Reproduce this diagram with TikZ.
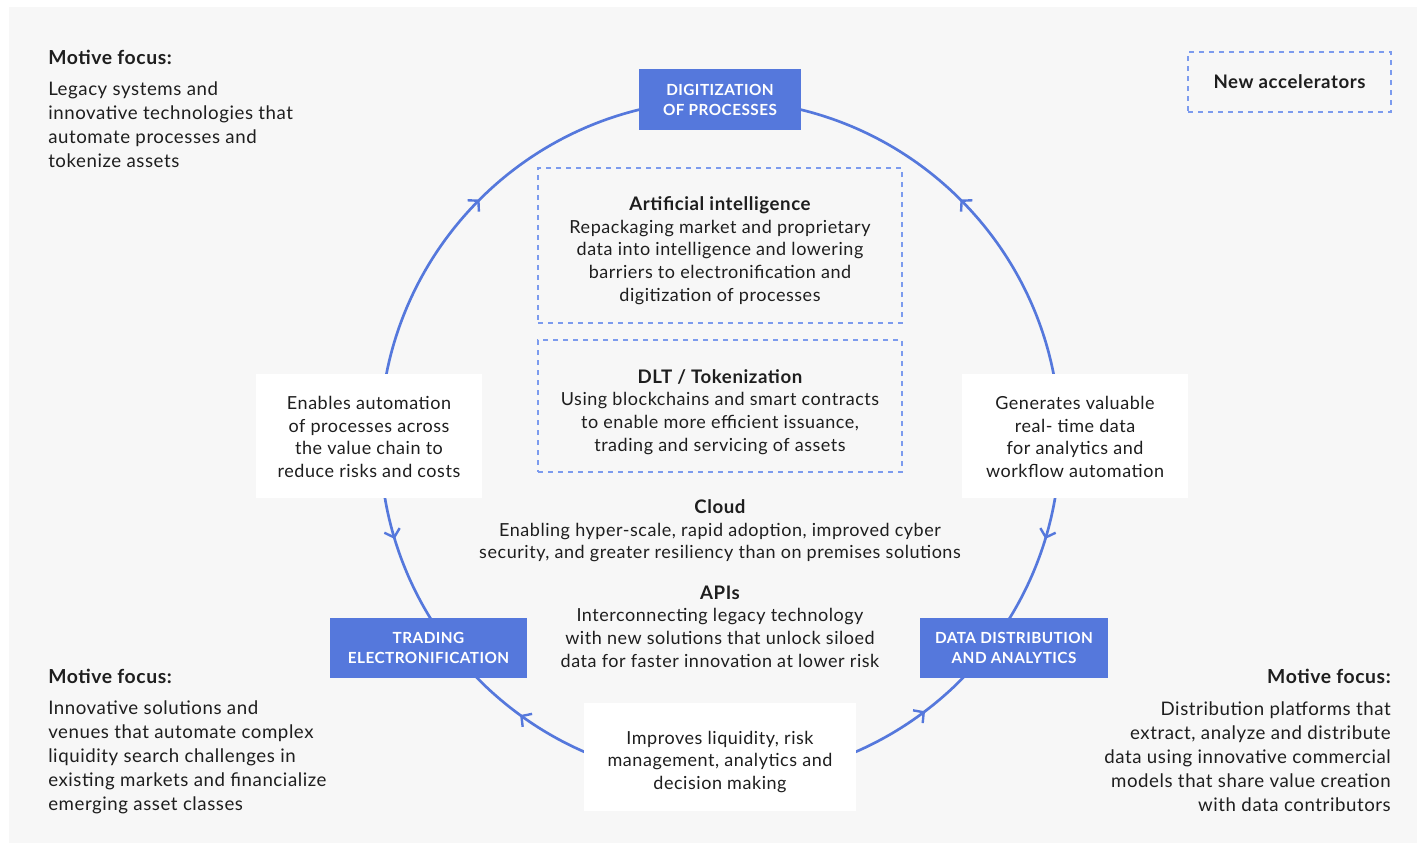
\documentclass[tikz,border=0pt]{standalone}
\usepackage{fontspec}
\setmainfont{Lato}[LetterSpace=3]
\usetikzlibrary{arrows.meta,decorations.markings}
\definecolor{panel}{HTML}{F7F7F7}
\definecolor{ringblue}{HTML}{5578DC}
\definecolor{dashblue}{HTML}{7C9BEE}
\definecolor{ink}{HTML}{1E1E1E}
\newcommand{\boxhead}[1]{{\bfseries\fontsize{14}{17}\selectfont #1}}
\begin{document}
\begin{tikzpicture}[x=0.75pt,y=-0.75pt,
  every node/.style={text=ink},
  stage/.style={fill=ringblue,text=white,align=center,inner sep=0pt,
    font=\bfseries\fontsize{11.5}{15}\selectfont},
  note/.style={fill=white,inner sep=0pt},
  tech/.style={draw=dashblue,dash pattern=on 4pt off 3.5pt,line width=1.1pt,inner sep=0pt},
  boxtext/.style={inner sep=0pt,align=center,font=\fontsize{13.5}{17}\selectfont},
  focus/.style={inner sep=0pt,font=\bfseries\fontsize{14.5}{18}\selectfont},
  focustext/.style={inner sep=0pt,font=\fontsize{14}{18}\selectfont},
  barb/.tip={Straight Barb[length=5.5pt,width=12pt]},
  ring/.style={draw=ringblue,line width=2pt}
]
\useasboundingbox (0,0) rectangle (1417,843);
\fill[white] (0,0) rectangle (1417,843);
\fill[panel] (9,7) rectangle (1417,843);

% the cycle, with arrows pointing toward each stage
\coordinate (c) at (720,440);
\draw[ring,postaction={decorate},decoration={markings,
  mark=at position 0.125 with {\arrow[ringblue,line width=1.8pt]{barb}},
  mark=at position 0.375 with {\arrowreversed[ringblue,line width=1.8pt]{barb}},
  mark=at position 0.547 with {\arrow[ringblue,line width=1.8pt]{barb}},
  mark=at position 0.650 with {\arrowreversed[ringblue,line width=1.8pt]{barb}},
  mark=at position 0.853 with {\arrow[ringblue,line width=1.8pt]{barb}},
  mark=at position 0.953 with {\arrowreversed[ringblue,line width=1.8pt]{barb}}}]
  (c) circle[radius=255pt];

% stages
\node[stage,minimum width=121.5pt,minimum height=45.75pt] (dig) at (720,99.5)
  {DIGITIZATION\\OF PROCESSES};
\node[stage,minimum width=147.75pt,minimum height=45pt] (trade) at (428.5,648)
  {TRADING\\ELECTRONIFICATION};
\node[stage,minimum width=141pt,minimum height=45pt] (data) at (1014,648)
  {DATA DISTRIBUTION\\AND ANALYTICS};

% benefits on the ring
\node[note,minimum width=169.5pt,minimum height=93pt] (enable) at (369,436) {};
\node[boxtext] (enabletext) at (369,437)
  {Enables automation\\of processes across\\the value chain to\\reduce risks and costs};
\node[note,minimum width=169.5pt,minimum height=93pt] (generate) at (1075,436) {};
\node[boxtext] (generatetext) at (1075,437)
  {Generates valuable\\real- time data\\for analytics and\\workflow automation};
\node[note,minimum width=204pt,minimum height=81pt] (improve) at (720,757) {};
\node[boxtext] (improvetext) at (720,762)
  {Improves liquidity, risk\\management, analytics and\\decision making};

% accelerators
\node[tech,minimum width=152.25pt,minimum height=45pt] (legend) at (1289.5,82) {};
\node[boxtext] (legendtext) at (1289.5,82) {\boxhead{New accelerators}};
\node[tech,minimum width=273pt,minimum height=116.25pt] (ai) at (720,245.5) {};
\node[boxtext] (aitext) at (720,250.5)
  {\boxhead{Artificial intelligence}\\Repackaging market and proprietary\\data into intelligence and lowering\\barriers to electronification and\\digitization of processes};
\node[tech,minimum width=273pt,minimum height=99pt] (dlt) at (720,406) {};
\node[boxtext] (dlttext) at (720,412)
  {\boxhead{DLT / Tokenization}\\Using blockchains and smart contracts\\to enable more efficient issuance,\\trading and servicing of assets};
\node[boxtext] (cloud) at (720,531)
  {\boxhead{Cloud}\\Enabling hyper-scale, rapid adoption, improved cyber\\security, and greater resiliency than on premises solutions};
\node[boxtext] (apis) at (720,626.5)
  {\boxhead{APIs}\\Interconnecting legacy technology\\with new solutions that unlock siloed\\data for faster innovation at lower risk};

% motive focus notes
\node[focus,anchor=west] (tlhead) at (48,57) {Motive focus:};
\node[focustext,anchor=west,align=left] (tlbody) at (48,125)
  {Legacy systems and\\innovative technologies that\\automate processes and\\tokenize assets};
\node[focus,anchor=west] (blhead) at (48,676) {Motive focus:};
\node[focustext,anchor=west,align=left] (blbody) at (48,757)
  {Innovative solutions and\\venues that automate complex\\liquidity search challenges in\\existing markets and financialize\\emerging asset classes};
\node[focus,anchor=east] (brhead) at (1391,676) {Motive focus:};
\node[focustext,anchor=east,align=right] (brbody) at (1391,757)
  {Distribution platforms that\\extract, analyze and distribute\\data using innovative commercial\\models that share value creation\\with data contributors};
\end{tikzpicture}
\end{document}
